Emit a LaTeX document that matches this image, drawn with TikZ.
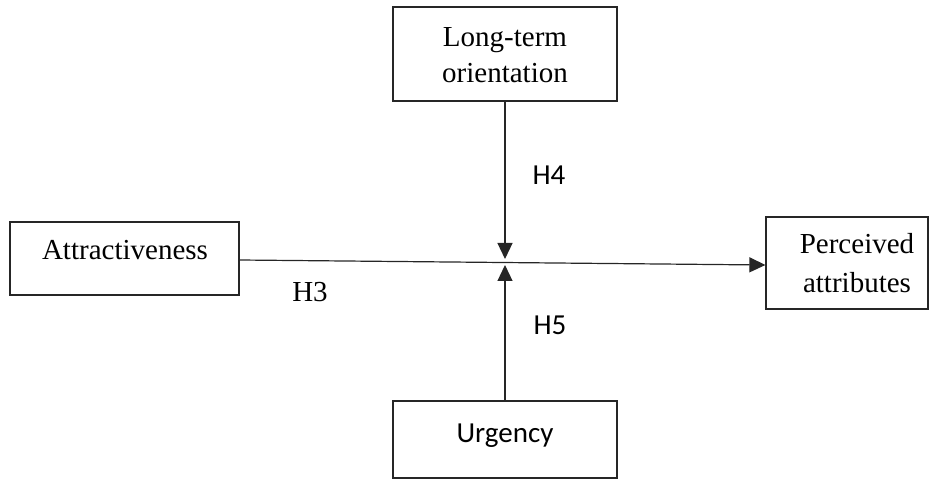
\documentclass[tikz,border=0pt]{standalone}
\usepackage{fontspec}
\setmainfont{Liberation Serif}
\newfontfamily\carl{Carlito}
\usetikzlibrary{arrows.meta}
\begin{document}
\begin{tikzpicture}[x=1pt,y=-1pt,
  box/.style={draw=black!85, line width=1.2pt, inner sep=0pt, fill=white},
  serif/.style={inner sep=0pt, font=\fontsize{29}{36}\selectfont, align=center},
  sans/.style={inner sep=0pt, font=\carl\fontsize{29}{36}\selectfont},
  arr/.style={line width=1.2pt, draw=black!85, -{Triangle[length=16pt,width=15pt]}}]
\useasboundingbox (0,0) rectangle (930,481);
% boxes
\node[box, minimum width=224pt, minimum height=94pt] (lto) at (505,54) {};
\node[box, minimum width=229pt, minimum height=73pt] (attr) at (124.5,258.5) {};
\node[box, minimum width=162pt, minimum height=92pt] (perc) at (847,263) {};
\node[box, minimum width=224pt, minimum height=77pt] (urg) at (505,439.5) {};
% texts
\node[serif] (ltoT) at (505,55.4) {Long-term\\orientation};
\node[serif] (attrT) at (125,250.5) {Attractiveness};
\node[serif, font=\fontsize{29}{39}\selectfont] (percT) at (857,262.6) {Perceived\\attributes};
\node[sans] (urgT) at (505,435.4) {Urgency};
% connectors
\coordinate (dtip) at (505,259);
\coordinate (utip) at (505,265);
\draw[arr] ([yshift=-1.5pt]attr.east) -- ([yshift=-2pt]perc.west);
\draw[arr] (lto.south) -- (dtip);
\draw[arr] (urg.north) -- (utip);
% labels
\node[sans] (h4) at (549,175.5) {H4};
\node[sans] (h5) at (550,325) {H5};
\node[serif] (h3) at (310,292) {H3};
\end{tikzpicture}
\end{document}
